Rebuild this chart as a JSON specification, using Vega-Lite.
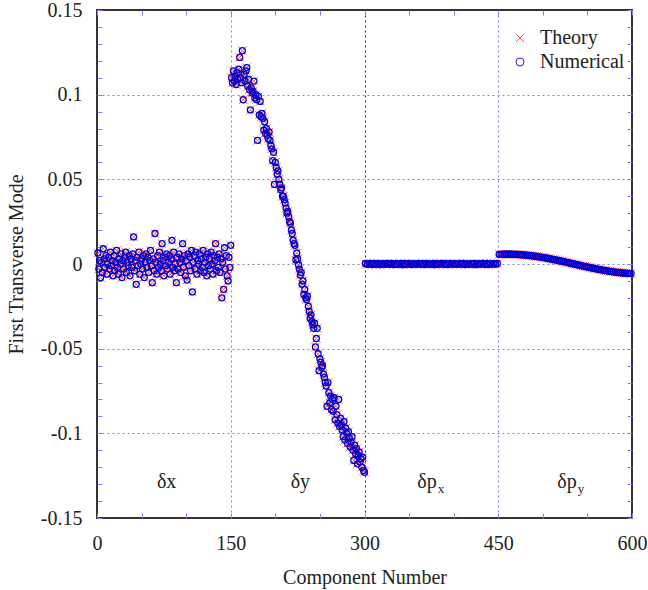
{
  "$schema": "https://vega.github.io/schema/vega-lite/v6.json",
  "width": 535,
  "height": 508,
  "autosize": {"type": "none"},
  "padding": {"left": 97, "top": 10, "right": 16, "bottom": 72},
  "background": "white",
  "config": {
    "view": {"stroke": "#333333", "strokeWidth": 2},
    "axis": {
      "labelFont": "Liberation Serif", "labelFontSize": 20, "labelColor": "#222222",
      "titleFont": "Liberation Serif", "titleFontSize": 20, "titleFontWeight": "normal", "titleColor": "#222222",
      "domain": false, "tickColor": "#8080ff", "tickWidth": 1, "tickSize": -5,
      "gridColor": "#8080ff", "gridDash": [2, 3], "gridWidth": 1
    }
  },
  "datasets": {
    "pts": [
      {"c":1,"v":0.0065},{"c":2,"v":-0.003},{"c":3,"v":0.002},{"c":4,"v":-0.008},{"c":5,"v":0.001},{"c":6,"v":-0.005},{"c":7,"v":0.009},{"c":8,"v":0.003},{"c":9,"v":-0.002},{"c":10,"v":0.005},
      {"c":11,"v":-0.006},{"c":12,"v":0},{"c":13,"v":0.004},{"c":14,"v":-0.003},{"c":15,"v":0.007},{"c":16,"v":-0.001},{"c":17,"v":0.002},{"c":18,"v":-0.007},{"c":19,"v":0.005},{"c":20,"v":-0.004},
      {"c":21,"v":0.001},{"c":22,"v":0.008},{"c":23,"v":-0.002},{"c":24,"v":-0.006},{"c":25,"v":0.003},{"c":26,"v":0},{"c":27,"v":0.006},{"c":28,"v":-0.008},{"c":29,"v":0.002},{"c":30,"v":-0.003},
      {"c":31,"v":0.004},{"c":32,"v":0.007},{"c":33,"v":-0.005},{"c":34,"v":0.001},{"c":35,"v":-0.001},{"c":36,"v":0.005},{"c":37,"v":-0.007},{"c":38,"v":0.003},{"c":39,"v":-0.002},{"c":40,"v":0.006},
      {"c":41,"v":0.016},{"c":42,"v":-0.004},{"c":43,"v":0.002},{"c":44,"v":-0.012},{"c":45,"v":0.004},{"c":46,"v":-0.001},{"c":47,"v":0.007},{"c":48,"v":-0.006},{"c":49,"v":0},{"c":50,"v":0.003},
      {"c":51,"v":-0.003},{"c":52,"v":0.005},{"c":53,"v":-0.008},{"c":54,"v":0.001},{"c":55,"v":0.006},{"c":56,"v":-0.002},{"c":57,"v":0.004},{"c":58,"v":-0.005},{"c":59,"v":0.002},{"c":60,"v":0.008},
      {"c":61,"v":-0.001},{"c":62,"v":-0.011},{"c":63,"v":0.003},{"c":64,"v":-0.004},{"c":65,"v":0.018},{"c":66,"v":0.001},{"c":67,"v":-0.006},{"c":68,"v":0.005},{"c":69,"v":-0.002},{"c":70,"v":0.007},
      {"c":71,"v":0},{"c":72,"v":-0.004},{"c":73,"v":0.012},{"c":74,"v":0.002},{"c":75,"v":-0.007},{"c":76,"v":0.004},{"c":77,"v":-0.001},{"c":78,"v":0.006},{"c":79,"v":-0.003},{"c":80,"v":0.001},
      {"c":81,"v":0.005},{"c":82,"v":-0.006},{"c":83,"v":0.003},{"c":84,"v":0.014},{"c":85,"v":-0.002},{"c":86,"v":0.007},{"c":87,"v":-0.004},{"c":88,"v":0},{"c":89,"v":-0.011},{"c":90,"v":0.004},
      {"c":91,"v":-0.003},{"c":92,"v":0.006},{"c":93,"v":0.001},{"c":94,"v":-0.005},{"c":95,"v":0.003},{"c":96,"v":0.012},{"c":97,"v":-0.002},{"c":98,"v":0.005},{"c":99,"v":-0.007},{"c":100,"v":0.002},
      {"c":101,"v":-0.0095},{"c":102,"v":0.006},{"c":103,"v":-0.001},{"c":104,"v":0.004},{"c":105,"v":-0.004},{"c":106,"v":0.008},{"c":107,"v":-0.0165},{"c":108,"v":0.001},{"c":109,"v":0.005},{"c":110,"v":-0.003},
      {"c":111,"v":0.007},{"c":112,"v":-0.006},{"c":113,"v":0.002},{"c":114,"v":0},{"c":115,"v":0.006},{"c":116,"v":-0.004},{"c":117,"v":0.003},{"c":118,"v":-0.002},{"c":119,"v":0.008},{"c":120,"v":-0.005},
      {"c":121,"v":0.001},{"c":122,"v":0.004},{"c":123,"v":-0.007},{"c":124,"v":0.006},{"c":125,"v":-0.001},{"c":126,"v":0.003},{"c":127,"v":-0.003},{"c":128,"v":0.007},{"c":129,"v":0},{"c":130,"v":-0.006},
      {"c":131,"v":0.005},{"c":132,"v":0.002},{"c":133,"v":0.012},{"c":134,"v":-0.004},{"c":135,"v":0.004},{"c":136,"v":-0.002},{"c":137,"v":0.006},{"c":138,"v":-0.005},{"c":139,"v":0.003},{"c":140,"v":-0.02},
      {"c":141,"v":0.001},{"c":142,"v":-0.015},{"c":143,"v":0.0096},{"c":144,"v":-0.003},{"c":145,"v":0.005},{"c":146,"v":-0.007},{"c":147,"v":-0.01},{"c":148,"v":0.004},{"c":149,"v":-0.002},{"c":150,"v":0.011},
      {"c":151,"v":0.110},{"c":152,"v":0.107},{"c":153,"v":0.114},{"c":154,"v":0.108},{"c":155,"v":0.111},{"c":156,"v":0.106},{"c":157,"v":0.113},{"c":158,"v":0.109},{"c":159,"v":0.115},{"c":160,"v":0.122},
      {"c":161,"v":0.110},{"c":162,"v":0.107},{"c":163,"v":0.126},{"c":164,"v":0.097},{"c":165,"v":0.112},{"c":166,"v":0.108},{"c":167,"v":0.114},{"c":168,"v":0.116},{"c":169,"v":0.105},{"c":170,"v":0.109},
      {"c":171,"v":0.103},{"c":172,"v":0.091},{"c":173,"v":0.104},{"c":174,"v":0.101},{"c":175,"v":0.102},{"c":176,"v":0.108},{"c":177,"v":0.098},{"c":178,"v":0.100},{"c":179,"v":0.097},{"c":180,"v":0.073},
      {"c":181,"v":0.099},{"c":182,"v":0.088},{"c":183,"v":0.096},{"c":184,"v":0.087},{"c":185,"v":0.089},{"c":186,"v":0.086},{"c":187,"v":0.079},{"c":188,"v":0.084},{"c":189,"v":0.077},{"c":190,"v":0.080},
      {"c":191,"v":0.076},{"c":192,"v":0.074},{"c":193,"v":0.078},{"c":194,"v":0.073},{"c":195,"v":0.070},{"c":196,"v":0.068},{"c":197,"v":0.061},{"c":198,"v":0.066},{"c":199,"v":0.047},{"c":200,"v":0.060},
      {"c":201,"v":0.057},{"c":202,"v":0.053},{"c":203,"v":0.055},{"c":204,"v":0.050},{"c":205,"v":0.047},{"c":206,"v":0.044},{"c":207,"v":0.045},{"c":208,"v":0.040},{"c":209,"v":0.040},{"c":210,"v":0.038},
      {"c":211,"v":0.036},{"c":212,"v":0.033},{"c":213,"v":0.030},{"c":214,"v":0.031},{"c":215,"v":0.028},{"c":216,"v":0.025},{"c":217,"v":0.024},{"c":218,"v":0.020},{"c":219,"v":0.018},{"c":220,"v":0.014},
      {"c":221,"v":0.012},{"c":222,"v":0.011},{"c":223,"v":0.0024},{"c":224,"v":0.0065},{"c":225,"v":0.003},{"c":226,"v":-0.0006},{"c":227,"v":-0.003},{"c":228,"v":-0.0065},{"c":229,"v":-0.005},{"c":230,"v":-0.012},
      {"c":231,"v":-0.010},{"c":232,"v":-0.018},{"c":233,"v":-0.015},{"c":234,"v":-0.020},{"c":235,"v":-0.021},{"c":236,"v":-0.019},{"c":237,"v":-0.025},{"c":238,"v":-0.028},{"c":239,"v":-0.032},{"c":240,"v":-0.030},
      {"c":241,"v":-0.034},{"c":242,"v":-0.036},{"c":243,"v":-0.038},{"c":244,"v":-0.035},{"c":245,"v":-0.049},{"c":246,"v":-0.044},{"c":247,"v":-0.038},{"c":248,"v":-0.053},{"c":249,"v":-0.063},{"c":250,"v":-0.056},
      {"c":251,"v":-0.058},{"c":252,"v":-0.061},{"c":253,"v":-0.060},{"c":254,"v":-0.065},{"c":255,"v":-0.067},{"c":256,"v":-0.070},{"c":257,"v":-0.072},{"c":258,"v":-0.084},{"c":259,"v":-0.070},{"c":260,"v":-0.076},
      {"c":261,"v":-0.082},{"c":262,"v":-0.078},{"c":263,"v":-0.086},{"c":264,"v":-0.080},{"c":265,"v":-0.087},{"c":266,"v":-0.079},{"c":267,"v":-0.092},{"c":268,"v":-0.084},{"c":269,"v":-0.089},{"c":270,"v":-0.094},
      {"c":271,"v":-0.080},{"c":272,"v":-0.096},{"c":273,"v":-0.091},{"c":274,"v":-0.095},{"c":275,"v":-0.098},{"c":276,"v":-0.102},{"c":277,"v":-0.093},{"c":278,"v":-0.104},{"c":279,"v":-0.097},{"c":280,"v":-0.100},
      {"c":281,"v":-0.106},{"c":282,"v":-0.099},{"c":283,"v":-0.103},{"c":284,"v":-0.108},{"c":285,"v":-0.105},{"c":286,"v":-0.102},{"c":287,"v":-0.110},{"c":288,"v":-0.116},{"c":289,"v":-0.107},{"c":290,"v":-0.112},
      {"c":291,"v":-0.109},{"c":292,"v":-0.118},{"c":293,"v":-0.113},{"c":294,"v":-0.111},{"c":295,"v":-0.117},{"c":296,"v":-0.115},{"c":297,"v":-0.120},{"c":298,"v":-0.114},{"c":299,"v":-0.122},{"c":300,"v":-0.123},
      {"c":301,"v":0.0003},{"c":303,"v":-0.0002},{"c":305,"v":0.0001},{"c":307,"v":0.0004},{"c":309,"v":-0.0003},{"c":311,"v":0.0002},{"c":313,"v":-0.0001},{"c":315,"v":0.0003},{"c":317,"v":-0.0004},{"c":319,"v":0.0001},
      {"c":321,"v":0.0002},{"c":323,"v":-0.0002},{"c":325,"v":0.0004},{"c":327,"v":-0.0001},{"c":329,"v":0},{"c":331,"v":0.0003},{"c":333,"v":-0.0003},{"c":335,"v":0.0002},{"c":337,"v":-0.0002},{"c":339,"v":0.0001},
      {"c":341,"v":0.0004},{"c":343,"v":-0.0004},{"c":345,"v":0.0002},{"c":347,"v":-0.0001},{"c":349,"v":0.0003},{"c":351,"v":0},{"c":353,"v":-0.0003},{"c":355,"v":0.0002},{"c":357,"v":0.0001},{"c":359,"v":-0.0002},
      {"c":361,"v":0.0003},{"c":363,"v":-0.0001},{"c":365,"v":0.0002},{"c":367,"v":-0.0003},{"c":369,"v":0.0004},{"c":371,"v":0},{"c":373,"v":-0.0002},{"c":375,"v":0.0001},{"c":377,"v":0.0003},{"c":379,"v":-0.0004},
      {"c":381,"v":0.0002},{"c":383,"v":-0.0001},{"c":385,"v":0.0001},{"c":387,"v":0.0003},{"c":389,"v":-0.0002},{"c":391,"v":0.0002},{"c":393,"v":-0.0003},{"c":395,"v":0.0001},{"c":397,"v":0.0003},{"c":399,"v":-0.0001},
      {"c":401,"v":0.0002},{"c":403,"v":-0.0002},{"c":405,"v":0},{"c":407,"v":0.0003},{"c":409,"v":-0.0001},{"c":411,"v":0.0004},{"c":413,"v":-0.0003},{"c":415,"v":0.0001},{"c":417,"v":-0.0002},{"c":419,"v":0.0002},
      {"c":421,"v":0},{"c":423,"v":0.0003},{"c":425,"v":-0.0004},{"c":427,"v":0.0001},{"c":429,"v":0.0002},{"c":431,"v":-0.0001},{"c":433,"v":0.0003},{"c":435,"v":-0.0002},{"c":437,"v":0.0004},{"c":439,"v":-0.0003},
      {"c":441,"v":0.0001},{"c":443,"v":0},{"c":445,"v":0.0002},{"c":447,"v":-0.0001},{"c":449,"v":0.0003},
      {"c":451,"v":0.0057},{"c":453,"v":0.00574},{"c":455,"v":0.00577},{"c":457,"v":0.00579},{"c":459,"v":0.0058},{"c":461,"v":0.0058},{"c":463,"v":0.00579},{"c":465,"v":0.00577},{"c":467,"v":0.00574},{"c":469,"v":0.0057},
      {"c":471,"v":0.00565},{"c":473,"v":0.00559},{"c":475,"v":0.00552},{"c":477,"v":0.00544},{"c":479,"v":0.00535},{"c":481,"v":0.00525},{"c":483,"v":0.00514},{"c":485,"v":0.00502},{"c":487,"v":0.0049},{"c":489,"v":0.00476},
      {"c":491,"v":0.00462},{"c":493,"v":0.00447},{"c":495,"v":0.00431},{"c":497,"v":0.00414},{"c":499,"v":0.00397},{"c":501,"v":0.00379},{"c":503,"v":0.0036},{"c":505,"v":0.00341},{"c":507,"v":0.00321},{"c":509,"v":0.003},
      {"c":511,"v":0.00279},{"c":513,"v":0.00258},{"c":515,"v":0.00236},{"c":517,"v":0.00213},{"c":519,"v":0.00191},{"c":521,"v":0.00168},{"c":523,"v":0.00144},{"c":525,"v":0.00121},{"c":527,"v":0.00097},{"c":529,"v":0.00073},
      {"c":531,"v":0.00049},{"c":533,"v":0.00024},{"c":535,"v":0},{"c":537,"v":-0.00024},{"c":539,"v":-0.00049},{"c":541,"v":-0.00073},{"c":543,"v":-0.00097},{"c":545,"v":-0.00121},{"c":547,"v":-0.00144},{"c":549,"v":-0.00168},
      {"c":551,"v":-0.00191},{"c":553,"v":-0.00213},{"c":555,"v":-0.00236},{"c":557,"v":-0.00258},{"c":559,"v":-0.00279},{"c":561,"v":-0.003},{"c":563,"v":-0.00321},{"c":565,"v":-0.00341},{"c":567,"v":-0.0036},{"c":569,"v":-0.00379},
      {"c":571,"v":-0.00397},{"c":573,"v":-0.00414},{"c":575,"v":-0.00431},{"c":577,"v":-0.00447},{"c":579,"v":-0.00462},{"c":581,"v":-0.00476},{"c":583,"v":-0.0049},{"c":585,"v":-0.00502},{"c":587,"v":-0.00514},{"c":589,"v":-0.00525},
      {"c":591,"v":-0.00535},{"c":593,"v":-0.00544},{"c":595,"v":-0.00552},{"c":597,"v":-0.00559},{"c":599,"v":-0.00565}
    ]
  },
  "layer": [
    {
      "data": {"name": "pts"},
      "mark": {"type": "point", "filled": false, "size": 70, "strokeWidth": 0.9, "opacity": 0.85},
      "encoding": {
        "x": {"field": "c", "type": "quantitative", "scale": {"domain": [0, 600], "nice": false, "zero": false},
          "axis": {"orient": "bottom", "title": "Component Number",
            "values": [0,50,100,150,200,250,300,350,400,450,500,550,600],
            "labelExpr": "datum.value % 150 === 0 ? '' + datum.value : ''",
            "labelPadding": 20, "titlePadding": 14, "labelFlush": false, "labelOverlap": false,
            "grid": true,
            "gridOpacity": {"condition": {"test": "datum.value % 150 === 0 && datum.value > 0 && datum.value < 600", "value": 1}, "value": 0},
            "gridColor": {"condition": {"test": "datum.value === 300", "value": "#1010e0"}, "value": "#8080ff"}}},
        "y": {"field": "v", "type": "quantitative", "scale": {"domain": [-0.15, 0.15], "nice": false, "zero": false},
          "axis": {"orient": "left", "title": "First Transverse Mode",
            "values": [-0.15,-0.14,-0.13,-0.12,-0.11,-0.1,-0.09,-0.08,-0.07,-0.06,-0.05,-0.04,-0.03,-0.02,-0.01,0,0.01,0.02,0.03,0.04,0.05,0.06,0.07,0.08,0.09,0.1,0.11,0.12,0.13,0.14,0.15],
            "labelExpr": "abs(round(datum.value*100)) % 5 === 0 ? '' + datum.value : ''",
            "labelPadding": 20, "titlePadding": 14, "labelFlush": false, "labelOverlap": false,
            "grid": true,
            "gridOpacity": {"condition": {"test": "abs(round(datum.value*100)) % 5 === 0 && abs(datum.value) < 0.14", "value": 1}, "value": 0}}},
        "color": {"datum": "Theory", "type": "nominal",
          "scale": {"domain": ["Theory", "Numerical"], "range": ["#ff2a2a", "#0000d0"]},
          "legend": {"orient": "none", "legendX": 413, "legendY": 18, "title": null, "padding": 0,
            "labelFont": "Liberation Serif", "labelFontSize": 20, "labelColor": "#222222",
            "labelOffset": 10, "rowPadding": 4, "symbolStrokeWidth": 1, "symbolSize": 64}},
        "shape": {"datum": "Theory", "type": "nominal",
          "scale": {"domain": ["Theory", "Numerical"], "range": ["M-1,-1L1,1M-1,1L1,-1", "circle"]},
          "legend": {"orient": "none", "legendX": 413, "legendY": 18, "title": null, "padding": 0,
            "labelFont": "Liberation Serif", "labelFontSize": 20, "labelColor": "#222222",
            "labelOffset": 10, "rowPadding": 4, "symbolStrokeWidth": 1, "symbolSize": 64}}
      }
    },
    {
      "data": {"name": "pts"},
      "mark": {"type": "point", "filled": false, "size": 36, "strokeWidth": 1.3, "opacity": 1},
      "encoding": {
        "x": {"field": "c", "type": "quantitative",
          "axis": {"orient": "top", "title": null, "labels": false, "grid": false,
            "values": [0,50,100,150,200,250,300,350,400,450,500,550,600]}},
        "y": {"field": "v", "type": "quantitative",
          "axis": {"orient": "right", "title": null, "labels": false, "grid": false,
            "values": [-0.15,-0.14,-0.13,-0.12,-0.11,-0.1,-0.09,-0.08,-0.07,-0.06,-0.05,-0.04,-0.03,-0.02,-0.01,0,0.01,0.02,0.03,0.04,0.05,0.06,0.07,0.08,0.09,0.1,0.11,0.12,0.13,0.14,0.15]}},
        "color": {"datum": "Numerical", "type": "nominal"},
        "shape": {"datum": "Numerical", "type": "nominal"}
      }
    },
    {
      "data": {"values": [
        {"c": 89, "v": -0.132, "t": "δx"},
        {"c": 239, "v": -0.132, "t": "δy"},
        {"c": 381, "v": -0.132, "t": "δp"},
        {"c": 538, "v": -0.132, "t": "δp"}
      ]},
      "mark": {"type": "text", "align": "right", "baseline": "alphabetic", "font": "Liberation Serif", "fontSize": 20, "color": "#222222"},
      "encoding": {
        "x": {"field": "c", "type": "quantitative", "axis": null},
        "y": {"field": "v", "type": "quantitative", "axis": null},
        "text": {"field": "t"}
      }
    },
    {
      "data": {"values": [
        {"c": 381, "v": -0.132, "s": "x"},
        {"c": 538, "v": -0.132, "s": "y"}
      ]},
      "mark": {"type": "text", "align": "left", "baseline": "alphabetic", "dx": 1, "dy": 5, "font": "Liberation Serif", "fontSize": 13, "color": "#222222"},
      "encoding": {
        "x": {"field": "c", "type": "quantitative", "axis": null},
        "y": {"field": "v", "type": "quantitative", "axis": null},
        "text": {"field": "s"}
      }
    }
  ],
  "resolve": {"axis": {"x": "independent", "y": "independent"}}
}
